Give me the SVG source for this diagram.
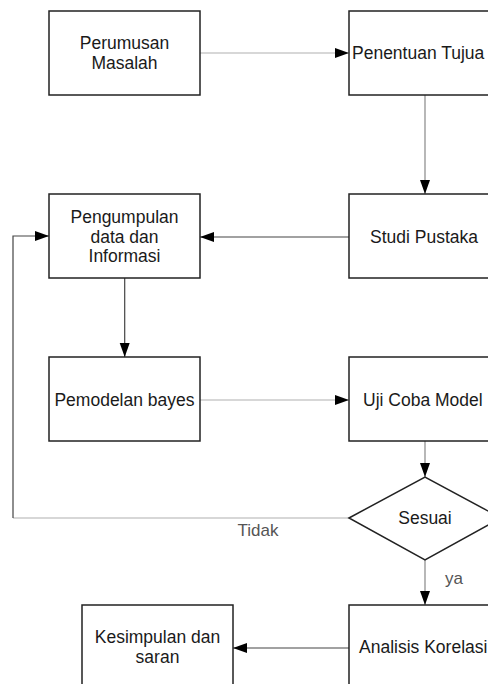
<svg xmlns="http://www.w3.org/2000/svg" width="488" height="684" viewBox="0 0 488 684">
<style>
.box{fill:#fff;stroke:#222;stroke-width:1.5}
.t{font-family:"Liberation Sans",Arial,sans-serif;font-size:17.5px;fill:#1a1a1a}
.c{text-anchor:middle}
.lbl{font-family:"Liberation Sans",Arial,sans-serif;font-size:17px;fill:#555}
.ln{fill:none;stroke-width:1.2}
.lt{stroke:#b0b0b0}
.md{stroke:#888}
.dk{stroke:#444}
</style>
<defs>
<marker id="ah" markerUnits="userSpaceOnUse" markerWidth="14" markerHeight="12" refX="14" refY="6" orient="auto">
<path d="M0,1 L14,6 L0,11 Z" fill="#000"/>
</marker>
</defs>
<rect width="488" height="684" fill="#fff"/>
<g id="connectors">
<path class="ln lt" d="M200,53 H349" marker-end="url(#ah)"/>
<path class="ln md" d="M425,95 V194" marker-end="url(#ah)"/>
<path class="ln dk" d="M349,237 H200" marker-end="url(#ah)"/>
<path class="ln lt" d="M349,518 H13"/>
<path class="ln dk" d="M13,518 V236 H49" marker-end="url(#ah)"/>
<path class="ln dk" d="M124.7,278 V357" marker-end="url(#ah)"/>
<path class="ln lt" d="M200,400 H349" marker-end="url(#ah)"/>
<path class="ln md" d="M425,441 V477" marker-end="url(#ah)"/>
<path class="ln md" d="M425,560 V605" marker-end="url(#ah)"/>
<path class="ln dk" d="M349,648 H233" marker-end="url(#ah)"/>
<text class="lbl c" x="258" y="536">Tidak</text>
<text class="lbl" x="445" y="584">ya</text>
</g>
<g id="perumusan">
<rect class="box" x="49" y="11" width="151" height="84"/>
<text class="t c" x="124.5" y="49">Perumusan</text>
<text class="t c" x="124.5" y="69">Masalah</text>
</g>
<g id="penentuan">
<rect class="box" x="349" y="11" width="200" height="84"/>
<text class="t" x="352" y="59">Penentuan Tujua</text>
</g>
<g id="pengumpulan">
<rect class="box" x="49" y="194" width="151" height="84"/>
<text class="t c" x="124.5" y="223">Pengumpulan</text>
<text class="t c" x="124.5" y="243">data dan</text>
<text class="t c" x="124.5" y="262">Informasi</text>
</g>
<g id="studi">
<rect class="box" x="349" y="194" width="200" height="84"/>
<text class="t" x="370" y="243">Studi Pustaka</text>
</g>
<g id="pemodelan">
<rect class="box" x="49" y="357" width="151" height="84"/>
<text class="t c" x="124.5" y="406">Pemodelan bayes</text>
</g>
<g id="ujicoba">
<rect class="box" x="349" y="357" width="200" height="84"/>
<text class="t" x="363" y="406">Uji Coba Model</text>
</g>
<g id="sesuai">
<path class="box" d="M349,518 L425,477 L501,518 L425,560 Z"/>
<text class="t c" x="425" y="524">Sesuai</text>
</g>
<g id="kesimpulan">
<rect class="box" x="82" y="605" width="151" height="100"/>
<text class="t c" x="157.5" y="643">Kesimpulan dan</text>
<text class="t c" x="157.5" y="663">saran</text>
</g>
<g id="analisis">
<rect class="box" x="349" y="605" width="200" height="100"/>
<text class="t" x="359" y="653">Analisis Korelasi</text>
</g>
</svg>
